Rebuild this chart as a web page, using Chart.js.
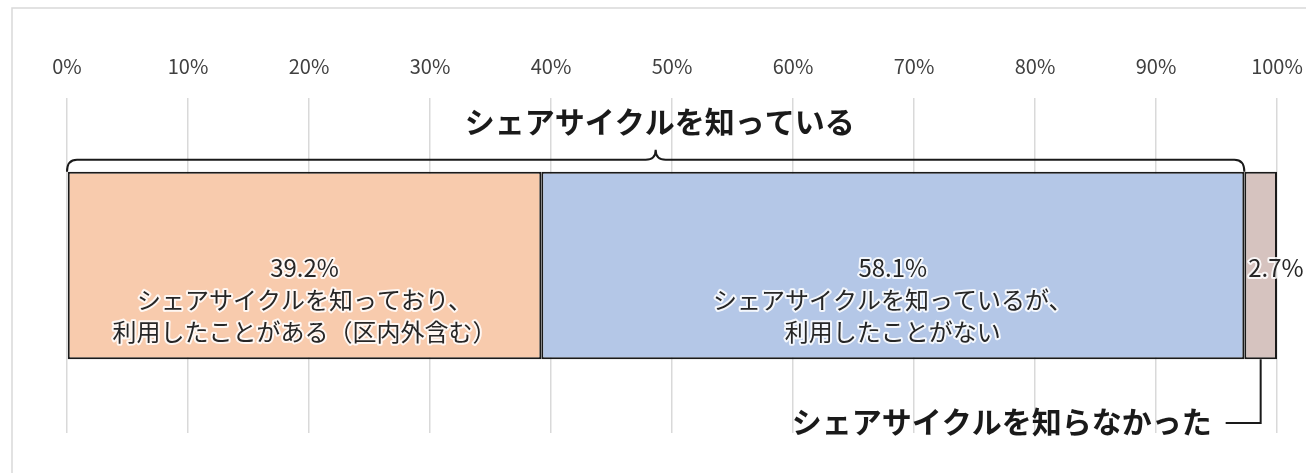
<!DOCTYPE html>
<html lang="ja">

<head>
  <meta charset="UTF-8">
  <title>シェアサイクル認知</title>
  <script src="https://cdn.jsdelivr.net/npm/chart.js"></script>
  <style>
    body { margin: 0; background: #fff; }
  </style>
</head>

<body>
  <canvas id="shareChart" width="1306" height="473"></canvas>

  <script>
    // data
    const categories = ['回答'];
    const seriesNames = ['知っており利用したことがある', '知っているが利用したことがない', '知らなかった'];
    const seriesValues = [39.2, 58.1, 2.7];
    const seriesColors = ['#F8CBAD', '#B4C7E7', '#D6C3BF'];
    const seriesLabels = [
      ['39.2%', 'シェアサイクルを知っており、', '利用したことがある（区内外含む）'],
      ['58.1%', 'シェアサイクルを知っているが、', '利用したことがない'],
      ['2.7%']
    ];
    const xTicks = [0, 10, 20, 30, 40, 50, 60, 70, 80, 90, 100];
    const braceLabel = 'シェアサイクルを知っている';
    const calloutLabel = 'シェアサイクルを知らなかった';

    const FONT = '"Noto Sans CJK JP", "Noto Sans", sans-serif';

    const decorations = {
      id: 'decorations',
      beforeDraw(chart) {
        const ctx = chart.ctx;
        ctx.save();
        ctx.strokeStyle = '#d9d9d9';
        ctx.lineWidth = 1.5;
        ctx.strokeRect(12, 8, 1400, 600);
        ctx.restore();
      },
      afterDatasetsDraw(chart) {
        const ctx = chart.ctx;
        const x = chart.scales.x;

        // labels inside the bars (first line sits on the bar's centre)
        chart.data.datasets.forEach((ds, i) => {
          const bar = chart.getDatasetMeta(i).data[0];
          const lines = seriesLabels[i];
          const cx = i === 2 ? bar.x - 1 : (bar.x + bar.base) / 2;
          const y0 = bar.y + 2;
          ctx.save();
          ctx.font = '24px ' + FONT;
          ctx.textAlign = 'center';
          ctx.textBaseline = 'middle';
          ctx.lineJoin = 'round';
          const lh = 32;
          lines.forEach((t, k) => {
            ctx.strokeStyle = 'rgba(255,255,255,0.85)';
            ctx.lineWidth = 4;
            ctx.strokeText(t, cx, y0 + k * lh);
            ctx.fillStyle = '#262626';
            ctx.fillText(t, cx, y0 + k * lh);
          });
          ctx.restore();
        });

        // brace over the "know it" part
        const first = chart.getDatasetMeta(0).data[0];
        const top = first.y - first.height / 2;
        const bx0 = x.getPixelForValue(0);
        const bx1 = x.getPixelForValue(seriesValues[0] + seriesValues[1]);
        const mid = (bx0 + bx1) / 2;
        const ly = top - 12;
        const r = 10;
        ctx.save();
        ctx.strokeStyle = '#1a1a1a';
        ctx.lineWidth = 2;
        ctx.beginPath();
        ctx.moveTo(bx0, top);
        ctx.quadraticCurveTo(bx0, ly, bx0 + r, ly);
        ctx.lineTo(mid - r, ly);
        ctx.quadraticCurveTo(mid, ly, mid, ly - r);
        ctx.quadraticCurveTo(mid, ly, mid + r, ly);
        ctx.lineTo(bx1 - r, ly);
        ctx.quadraticCurveTo(bx1, ly, bx1, top);
        ctx.stroke();

        ctx.fillStyle = '#1a1a1a';
        ctx.font = 'bold 30px ' + FONT;
        ctx.textAlign = 'center';
        ctx.textBaseline = 'middle';
        ctx.fillText(braceLabel, mid + 4, ly - 38);

        // callout for "didn't know"
        const last = chart.getDatasetMeta(2).data[0];
        const bottom = last.y + last.height / 2;
        const lx = (last.x + last.base) / 2;
        const cy = 423;
        ctx.beginPath();
        ctx.moveTo(lx, bottom);
        ctx.lineTo(lx, cy);
        ctx.lineTo(lx - 35, cy);
        ctx.stroke();
        ctx.textAlign = 'right';
        ctx.fillText(calloutLabel, lx - 49, cy - 1);
        ctx.restore();
      }
    };

    const ctx = document.getElementById('shareChart').getContext('2d');
    new Chart(ctx, {
      type: 'bar',
      data: {
        labels: categories,
        datasets: seriesValues.map((v, i) => ({
          label: seriesNames[i],
          data: [v],
          backgroundColor: seriesColors[i],
          borderColor: '#1a1a1a',
          borderWidth: 2,
          borderSkipped: false,
          barPercentage: 0.56,
          categoryPercentage: 1
        }))
      },
      options: {
        indexAxis: 'y',
        responsive: false,
        animation: false,
        layout: { padding: { left: 67, right: 29, top: 40, bottom: 40 } },
        plugins: { legend: { display: false }, tooltip: { enabled: false } },
        scales: {
          x: {
            position: 'top',
            stacked: true,
            min: 0,
            max: 100,
            afterBuildTicks: scale => { scale.ticks = xTicks.map(v => ({ value: v })); },
            afterFit: scale => {
              scale.height = 58;
              scale.paddingLeft = 0;
              scale.paddingRight = 0;
            },
            ticks: {
              padding: 20,
              color: '#404040',
              font: { family: FONT, size: 20 },
              callback: v => v + '%'
            },
            grid: { color: '#d9d9d9', lineWidth: 1.5, drawTicks: false },
            border: { display: false }
          },
          y: { stacked: true, display: false }
        }
      },
      plugins: [decorations]
    });
  </script>
</body>

</html>
